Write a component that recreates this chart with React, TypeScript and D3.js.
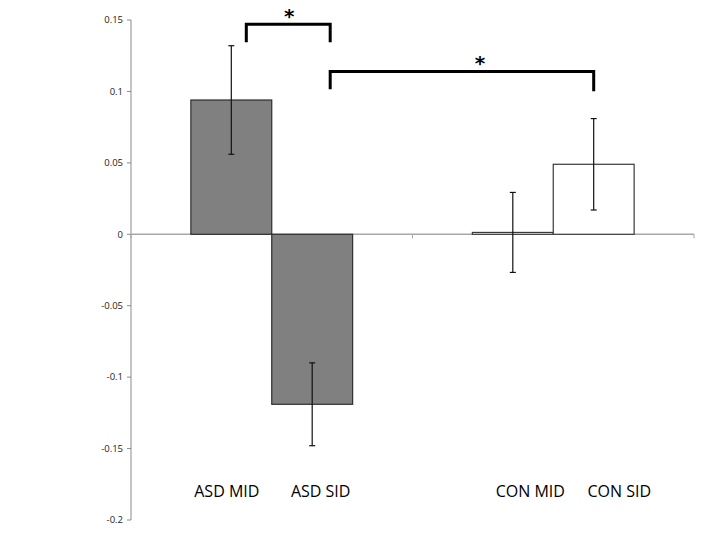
import React from "react";
import * as d3 from "d3";

const groups = ["ASD", "CON"];
const conditions = ["MID", "SID"];
const labels = ["ASD MID", "ASD SID", "CON MID", "CON SID"];
const means = [0.094, -0.119, 0.0013, 0.049];
const errors = [0.038, 0.029, 0.028, 0.032];
const yTicks = [0.15, 0.1, 0.05, 0, -0.05, -0.1, -0.15, -0.2];
const yTickLabels = ["0.15", "0.1", "0.05", "0", "-0.05", "-0.1", "-0.15", "-0.2"];
// significance brackets: [fromBarIndex, toBarIndex, level value]
const brackets = [
  { from: 0, to: 1, level: 0.147, drop: 0.0125 },
  { from: 1, to: 3, level: 0.114, drop: 0.0125 },
];

export default function App() {
  const W = 720, H = 540;
  const left = 131, right = 694, top = 20, bottom = 520;
  const y = d3.scaleLinear().domain([-0.2, 0.15]).range([bottom, top]);
  const xg = d3.scaleBand().domain(groups).range([left, right]).padding(0);
  const xc = d3.scaleBand().domain(conditions).range([0, xg.bandwidth()]).paddingInner(0).paddingOuter(0.74);
  const bars = labels.map((l, i) => {
    const g = groups[Math.floor(i / 2)];
    const c = conditions[i % 2];
    const x0 = (xg(g) as number) + (xc(c) as number);
    return { l, i, g, x0, w: xc.bandwidth(), cx: x0 + xc.bandwidth() / 2, v: means[i], e: errors[i] };
  });
  const labelNudge = [-4.5, 8.5, 17.5, 25.5];
  const starNudge = [1, 18];
  const y0 = y(0);
  return (
    <svg width={W} height={H} style={{ position: "absolute", left: 0, top: 0, background: "#fff" }}>
      <rect width={W} height={H} fill="#fff" />
      {/* y axis */}
      <line x1={left} x2={left} y1={y(0.15)} y2={y(-0.2)} stroke="#8a8a8a" strokeWidth={1} />
      {yTicks.map((t, i) => (
        <g key={t}>
          <line x1={left - 4} x2={left} y1={y(t)} y2={y(t)} stroke="#8a8a8a" />
          <text x={left - 8} y={y(t)} dy="0.35em" textAnchor="end" fontFamily="'Open Sans', sans-serif" fontSize={9.5} fill="#222">
            {yTickLabels[i]}
          </text>
        </g>
      ))}
      {/* x axis */}
      <line x1={left} x2={right} y1={y0} y2={y0} stroke="#a8a8a8" strokeWidth={1.5} />
      {[left, (xg("CON") as number), right].map((xx, i) => (
        <line key={i} x1={xx} x2={xx} y1={y0} y2={y0 + 4} stroke="#a8a8a8" />
      ))}
      {/* bars */}
      {bars.map((b) => (
        <rect
          key={b.l}
          x={b.x0}
          y={Math.min(y(b.v), y0)}
          width={b.w}
          height={Math.max(Math.abs(y(b.v) - y0), 1.5)}
          fill={b.g === "ASD" ? "#808080" : "#ffffff"}
          stroke={b.g === "ASD" ? "#2e2e2e" : "#3a3a3a"}
          strokeWidth={1.2}
        />
      ))}
      {/* error bars */}
      {bars.map((b) => (
        <g key={"e" + b.l} stroke="#111" strokeWidth={1.2}>
          <line x1={b.cx} x2={b.cx} y1={y(b.v + b.e)} y2={y(b.v - b.e)} />
          <line x1={b.cx - 3} x2={b.cx + 3} y1={y(b.v + b.e)} y2={y(b.v + b.e)} />
          <line x1={b.cx - 3} x2={b.cx + 3} y1={y(b.v - b.e)} y2={y(b.v - b.e)} />
        </g>
      ))}
      {/* brackets */}
      {brackets.map((br, i) => {
        const xa = i === 0 ? bars[br.from].cx + 15 : bars[br.from].cx + 18;
        const xb = i === 0 ? bars[br.to].cx + 18 : bars[br.to].cx;
        const ya = y(br.level);
        const yb = y(br.level - br.drop);
        return (
          <g key={i}>
            <path d={`M${xa},${yb} V${ya} H${xb} V${yb + (i === 1 ? 2 : 0)}`} fill="none" stroke="#000" strokeWidth={3} />
            <text x={(xa + xb) / 2 + starNudge[i]} y={ya - 1} textAnchor="middle" fontFamily="'DejaVu Sans', sans-serif" fontSize={20} fontWeight="bold" fill="#000">
              *
            </text>
          </g>
        );
      })}
      {/* category labels */}
      {bars.map((b) => (
        <text key={"l" + b.l} x={b.cx + labelNudge[b.i]} y={497} textAnchor="middle" fontFamily="'Open Sans', sans-serif" fontSize={16} fill="#000">
          {b.l}
        </text>
      ))}
    </svg>
  );
}
